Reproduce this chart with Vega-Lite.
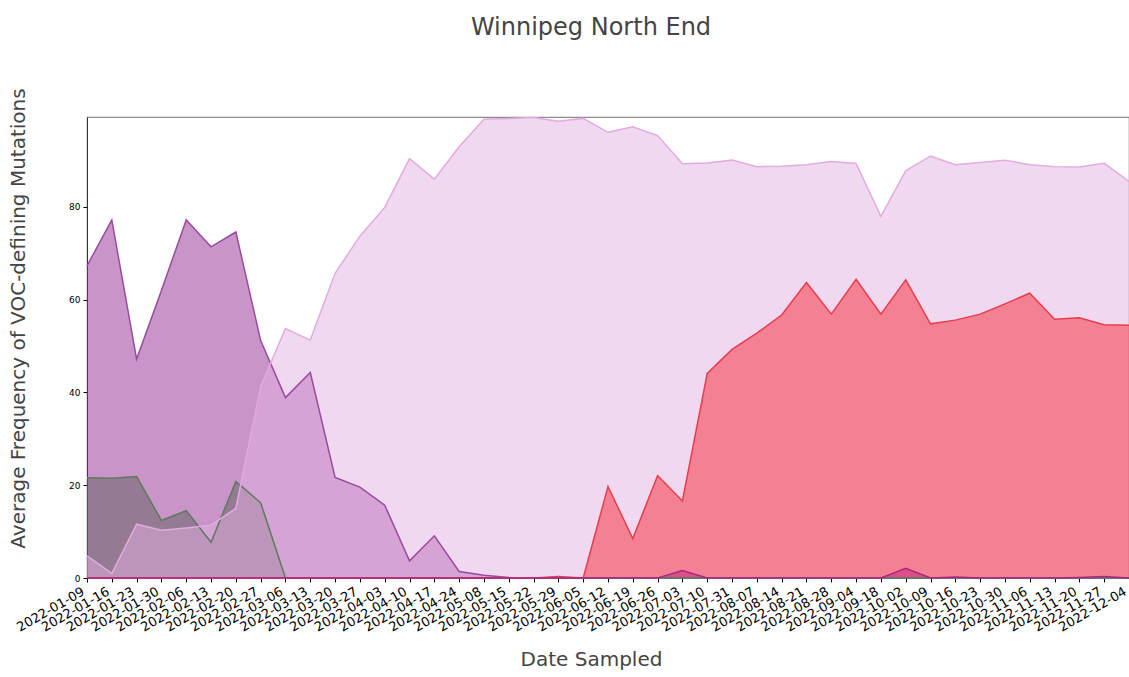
{
  "$schema": "https://vega.github.io/schema/vega-lite/v6.json",
  "width": 1042,
  "height": 461,
  "autosize": {"type": "none"},
  "padding": {"left": 87, "top": 117, "right": 0, "bottom": 99},
  "background": "white",
  "config": {"font": "DejaVu Sans", "view": {"stroke": "#8c8c8c", "strokeWidth": 1.2}},
  "title": {"text": "Winnipeg North End", "fontSize": 24, "font": "DejaVu Sans", "fontWeight": "normal", "color": "#444444", "anchor": "middle", "dx": -17, "offset": 48},
  "data": {"values": [
    {"date": "2022-01-09", "BA1": 67.3, "Delta": 21.6, "BA2": 4.8, "BA5": 0, "BA4": 0},
    {"date": "2022-01-16", "BA1": 77.2, "Delta": 21.5, "BA2": 1.0, "BA5": 0, "BA4": 0},
    {"date": "2022-01-23", "BA1": 47.2, "Delta": 21.9, "BA2": 11.6, "BA5": 0, "BA4": 0},
    {"date": "2022-01-30", "BA1": 62.0, "Delta": 12.4, "BA2": 10.3, "BA5": 0, "BA4": 0},
    {"date": "2022-02-06", "BA1": 77.2, "Delta": 14.5, "BA2": 10.8, "BA5": 0, "BA4": 0},
    {"date": "2022-02-13", "BA1": 71.4, "Delta": 7.7, "BA2": 11.4, "BA5": 0, "BA4": 0},
    {"date": "2022-02-20", "BA1": 74.6, "Delta": 20.8, "BA2": 15.0, "BA5": 0, "BA4": 0},
    {"date": "2022-02-27", "BA1": 51.2, "Delta": 16.2, "BA2": 41.3, "BA5": 0, "BA4": 0},
    {"date": "2022-03-06", "BA1": 38.9, "Delta": 0, "BA2": 53.8, "BA5": 0, "BA4": 0},
    {"date": "2022-03-13", "BA1": 44.3, "Delta": 0, "BA2": 51.3, "BA5": 0, "BA4": 0},
    {"date": "2022-03-20", "BA1": 21.7, "Delta": 0, "BA2": 65.7, "BA5": 0, "BA4": 0},
    {"date": "2022-03-27", "BA1": 19.6, "Delta": 0, "BA2": 73.7, "BA5": 0, "BA4": 0},
    {"date": "2022-04-03", "BA1": 15.7, "Delta": 0, "BA2": 79.9, "BA5": 0, "BA4": 0},
    {"date": "2022-04-10", "BA1": 3.7, "Delta": 0, "BA2": 90.4, "BA5": 0, "BA4": 0},
    {"date": "2022-04-17", "BA1": 9.1, "Delta": 0, "BA2": 86.0, "BA5": 0, "BA4": 0},
    {"date": "2022-04-24", "BA1": 1.4, "Delta": 0, "BA2": 93.0, "BA5": 0, "BA4": 0},
    {"date": "2022-05-08", "BA1": 0.6, "Delta": 0, "BA2": 98.9, "BA5": 0, "BA4": 0},
    {"date": "2022-05-15", "BA1": 0.1, "Delta": 0, "BA2": 99.1, "BA5": 0, "BA4": 0},
    {"date": "2022-05-22", "BA1": 0, "Delta": 0, "BA2": 99.3, "BA5": 0, "BA4": 0},
    {"date": "2022-05-29", "BA1": 0, "Delta": 0, "BA2": 98.5, "BA5": 0.3, "BA4": 0},
    {"date": "2022-06-05", "BA1": 0, "Delta": 0, "BA2": 99.1, "BA5": 0, "BA4": 0},
    {"date": "2022-06-12", "BA1": 0, "Delta": 0, "BA2": 96.1, "BA5": 19.7, "BA4": 0},
    {"date": "2022-06-19", "BA1": 0, "Delta": 0, "BA2": 97.3, "BA5": 8.5, "BA4": 0},
    {"date": "2022-06-26", "BA1": 0, "Delta": 0, "BA2": 95.4, "BA5": 22.1, "BA4": 0},
    {"date": "2022-07-03", "BA1": 0, "Delta": 0, "BA2": 89.3, "BA5": 16.6, "BA4": 1.6},
    {"date": "2022-07-10", "BA1": 0, "Delta": 0, "BA2": 89.5, "BA5": 44.1, "BA4": 0},
    {"date": "2022-07-31", "BA1": 0, "Delta": 0, "BA2": 90.1, "BA5": 49.3, "BA4": 0},
    {"date": "2022-08-07", "BA1": 0, "Delta": 0, "BA2": 88.7, "BA5": 52.8, "BA4": 0},
    {"date": "2022-08-14", "BA1": 0, "Delta": 0, "BA2": 88.8, "BA5": 56.7, "BA4": 0},
    {"date": "2022-08-21", "BA1": 0, "Delta": 0, "BA2": 89.1, "BA5": 63.7, "BA4": 0},
    {"date": "2022-08-28", "BA1": 0, "Delta": 0, "BA2": 89.8, "BA5": 56.9, "BA4": 0},
    {"date": "2022-09-04", "BA1": 0, "Delta": 0, "BA2": 89.4, "BA5": 64.4, "BA4": 0},
    {"date": "2022-09-18", "BA1": 0, "Delta": 0, "BA2": 78.0, "BA5": 56.9, "BA4": 0},
    {"date": "2022-10-02", "BA1": 0, "Delta": 0, "BA2": 87.8, "BA5": 64.3, "BA4": 2.1},
    {"date": "2022-10-09", "BA1": 0, "Delta": 0, "BA2": 91.0, "BA5": 54.8, "BA4": 0},
    {"date": "2022-10-16", "BA1": 0, "Delta": 0, "BA2": 89.1, "BA5": 55.6, "BA4": 0.2},
    {"date": "2022-10-23", "BA1": 0, "Delta": 0, "BA2": 89.6, "BA5": 56.9, "BA4": 0},
    {"date": "2022-10-30", "BA1": 0, "Delta": 0, "BA2": 90.1, "BA5": 59.1, "BA4": 0},
    {"date": "2022-11-06", "BA1": 0, "Delta": 0, "BA2": 89.1, "BA5": 61.4, "BA4": 0},
    {"date": "2022-11-13", "BA1": 0, "Delta": 0, "BA2": 88.7, "BA5": 55.8, "BA4": 0},
    {"date": "2022-11-20", "BA1": 0, "Delta": 0, "BA2": 88.6, "BA5": 56.1, "BA4": 0.1},
    {"date": "2022-11-27", "BA1": 0, "Delta": 0, "BA2": 89.4, "BA5": 54.6, "BA4": 0.3},
    {"date": "2022-12-04", "BA1": 0, "Delta": 0, "BA2": 85.5, "BA5": 54.5, "BA4": 0}
  ]},
  "transform": [{"fold": ["BA1", "Delta", "BA2", "BA5", "BA4"], "as": ["variant", "value"]}],
  "encoding": {
    "x": {
      "field": "date", "type": "ordinal",
      "scale": {"type": "point", "padding": 0},
      "axis": {
        "title": "Date Sampled", "labelAngle": -30, "labelAlign": "right", "labelBaseline": "top",
        "labelFontSize": 13, "labelColor": "black", "labelOverlap": false, "labelBound": false, "labelPadding": 3, "labelOffset": -7,
        "tickColor": "black", "tickSize": 4, "domain": false,
        "titleFontSize": 20, "titleColor": "#444444", "titleFontWeight": "normal",
        "titleX": 504, "titleY": 87, "titleBaseline": "alphabetic", "titleAnchor": null
      }
    },
    "y": {
      "field": "value", "type": "quantitative",
      "scale": {"domain": [0, 99.4], "nice": false, "zero": true},
      "axis": {
        "title": "Average Frequency of VOC-defining Mutations", "values": [0, 20, 40, 60, 80],
        "labelFontSize": 9, "labelColor": "black", "tickColor": "black", "tickSize": 4,
        "domainColor": "#333333", "grid": false, "labelPadding": 3,
        "titleFontSize": 20, "titleColor": "#444444", "titleFontWeight": "normal",
        "titleX": -59, "titleY": 201, "titleBaseline": "bottom"
      }
    }
  },
  "layer": [
    {"transform": [{"filter": "datum.variant === 'BA1'"}], "mark": {"type": "area", "color": "#93298f", "opacity": 0.5}},
    {"transform": [{"filter": "datum.variant === 'Delta'"}], "mark": {"type": "area", "color": "#606060", "opacity": 0.5}},
    {"transform": [{"filter": "datum.variant === 'BA2'"}], "mark": {"type": "area", "color": "#e1b1e1", "opacity": 0.5}},
    {"transform": [{"filter": "datum.variant === 'BA5'"}], "mark": {"type": "area", "color": "#f52a36", "opacity": 0.5}},
    {"transform": [{"filter": "datum.variant === 'BA4'"}], "mark": {"type": "area", "color": "#c42078", "opacity": 0.5}},
    {"transform": [{"filter": "datum.variant === 'BA1'"}], "mark": {"type": "line", "color": "#9a4aa0", "strokeWidth": 1.5}},
    {"transform": [{"filter": "datum.variant === 'Delta'"}], "mark": {"type": "line", "color": "#5e7a5e", "strokeWidth": 1.5}},
    {"transform": [{"filter": "datum.variant === 'BA2'"}], "mark": {"type": "line", "color": "#e2aae0", "strokeWidth": 1.5}},
    {"transform": [{"filter": "datum.variant === 'BA5'"}], "mark": {"type": "line", "color": "#eb3c4b", "strokeWidth": 1.5}},
    {"transform": [{"filter": "datum.variant === 'BA4'"}], "mark": {"type": "line", "color": "#aa2882", "strokeWidth": 1.5}}
  ]
}
